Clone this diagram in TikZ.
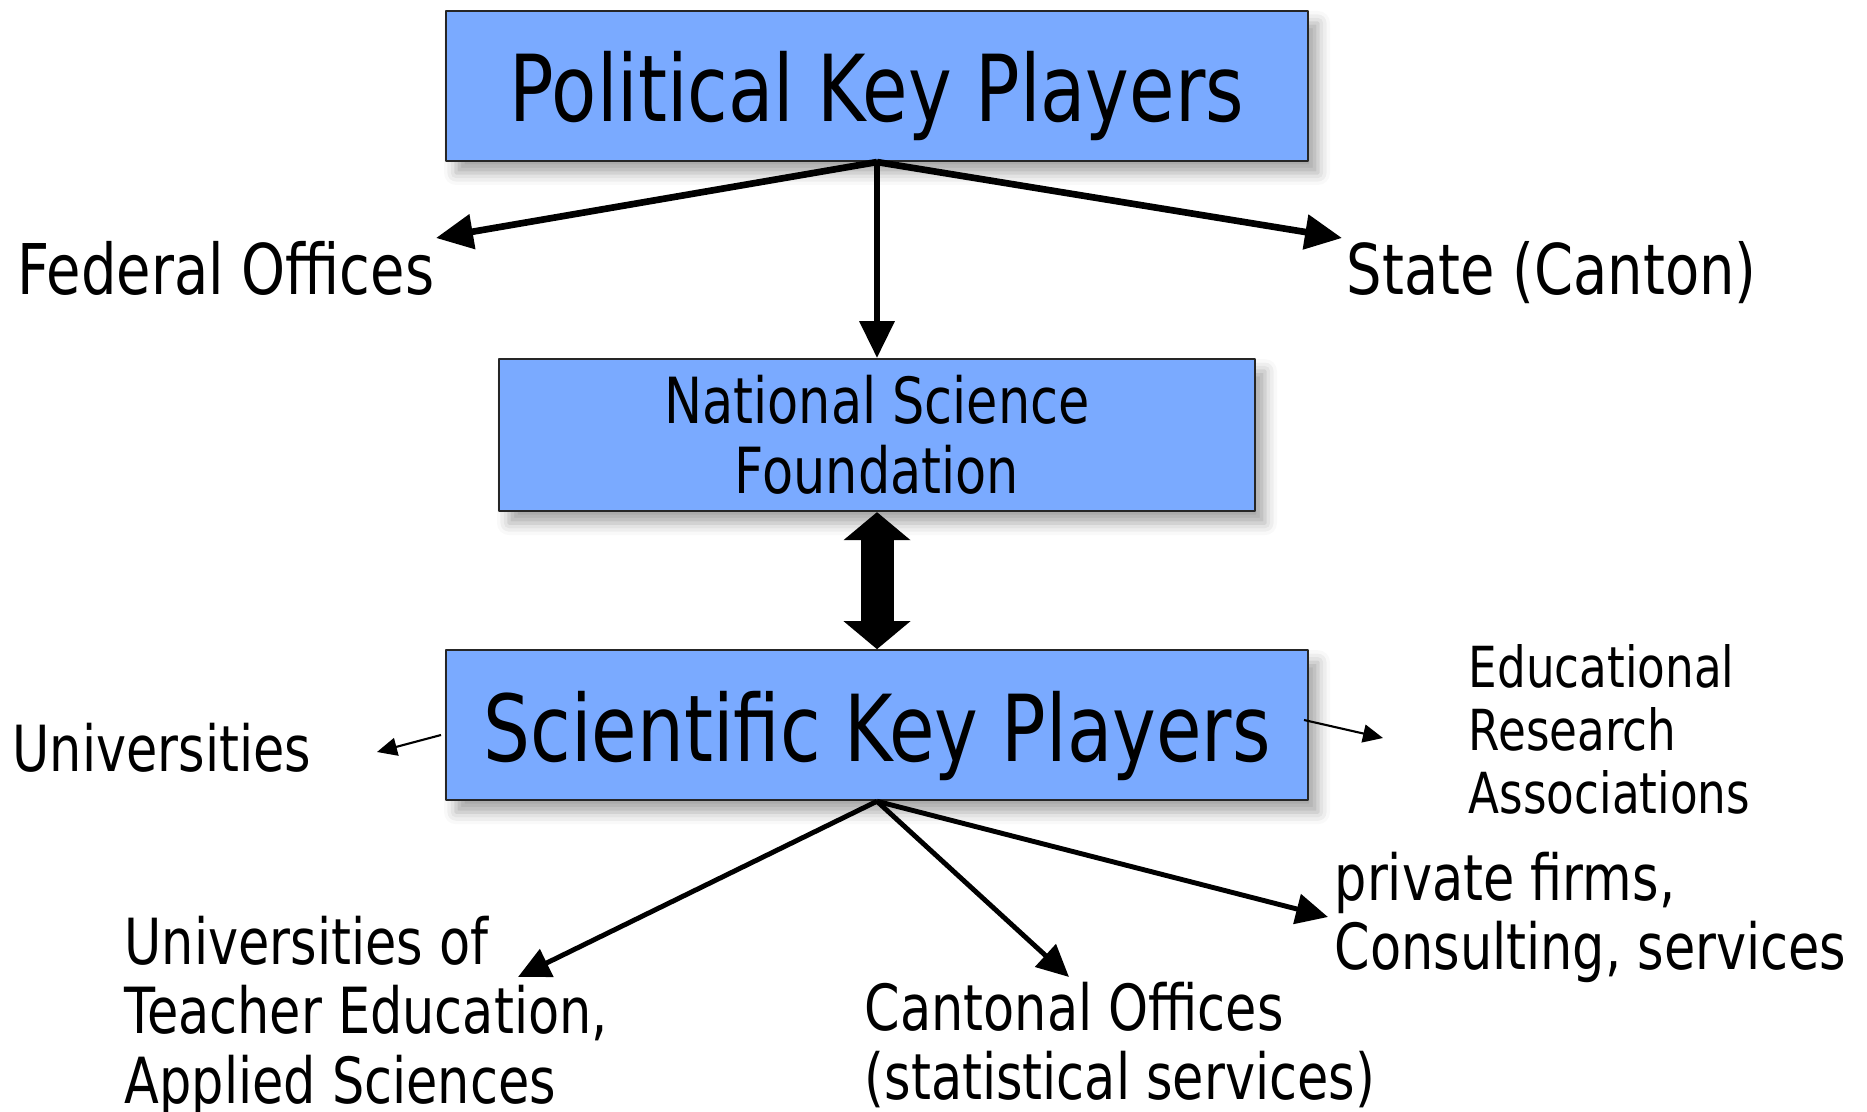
\documentclass[tikz,border=0pt]{standalone}
\usepackage{fontspec}
\setmainfont{DejaVu Sans}[FakeStretch=0.8]
\usetikzlibrary{arrows.meta,positioning,shadows.blur}
\definecolor{boxblue}{RGB}{122,170,255}
\newcommand\fsBig{\fontsize{26.3}{30}\selectfont}
\newcommand\fsPol{\fontsize{19.9}{22}\selectfont}
\newcommand\fsMed{\fontsize{18.1}{19.9}\selectfont}
\newcommand\fsSmall{\fontsize{16.1}{17.9}\selectfont}
\tikzset{every picture/.style={line join=round}}
\tikzset{box/.style={draw=black!85, fill=boxblue, rectangle, line width=0.6pt,
  minimum width=8.62cm, minimum height=1.5cm, align=center,
  blur shadow={shadow xshift=1mm, shadow yshift=-1.2mm, shadow opacity=35, shadow blur radius=1.2mm}}}
\tikzset{bigbox/.style={box, font=\fsBig, text height=0.72cm, text depth=0pt}}
\tikzset{lbl/.style={inner sep=0pt, align=left}}
\tikzset{polarrow/.style={-{Triangle[length=3.7mm, width=3.4mm]}, line width=1.9pt}}
\tikzset{sciarrow/.style={-{Triangle[length=3.2mm, width=3mm]}, line width=1.4pt}}
\tikzset{thinarrow/.style={-{Triangle[length=2mm, width=1.8mm]}, line width=0.6pt}}
\tikzset{dblarrow/.style={{Triangle[length=2.8mm, width=6.7mm, line width=0pt]}-{Triangle[length=2.8mm, width=6.7mm, line width=0pt]},
  line width=3.3mm}}

\begin{document}
\begin{tikzpicture}
  \useasboundingbox (0,0) rectangle (18.67,-11.12);

  % Kaesten
  \node[bigbox] (pkp) at (8.77,-0.86) {Political Key Players};
  \node[box, font=\fsMed, minimum width=7.56cm, minimum height=1.52cm, below=1.96cm of pkp] (nsf) {National Science\\Foundation};
  \node[bigbox, below=1.37cm of nsf] (skp) {Scientific Key Players};

  % Beschriftungen
  \node[lbl, font=\fsPol, anchor=base west] (fed) at (0.17,-2.95) {Federal Offices};
  \node[lbl, font=\fsPol, anchor=base west] (state) at (13.46,-2.95) {State (Canton)};
  \node[lbl, font=\fsMed, anchor=base west] (uni) at (0.12,-7.71) {Universities};
  \node[lbl, font=\fsSmall, anchor=north west] (era) at (14.68,-6.44) {Educational\\Research\\Associations};
  \node[lbl, font=\fsMed, anchor=north west] (ute) at (1.24,-9.15) {Universities of\\Teacher Education,\\Applied Sciences};
  \node[lbl, font=\fsMed, anchor=north west] (cant) at (8.64,-9.81) {Cantonal Offices\\(statistical services)};
  \node[lbl, font=\fsMed, anchor=north west] (priv) at (13.34,-8.51) {private firms,\\Consulting, services};

  % Pfeilenden
  \coordinate (fedtip) at (4.36,-2.38);
  \coordinate (statetip) at (13.42,-2.38);
  \coordinate (unifrom) at (4.41,-7.35);
  \coordinate (unitip) at (3.77,-7.52);
  \coordinate (erafrom) at (13.04,-7.20);
  \coordinate (eratip) at (13.83,-7.38);
  \coordinate (utetip) at (5.18,-9.77);
  \coordinate (canttip) at (10.69,-9.77);
  \coordinate (privtip) at (13.28,-9.17);

  % Pfeile
  \draw[polarrow] (pkp.south) -- (fedtip);
  \draw[polarrow] (pkp.south) -- (statetip);
  \draw[polarrow] (pkp.south) -- (nsf.north);
  \draw[dblarrow] (nsf.south) -- (skp.north);
  \draw[thinarrow] (unifrom) -- (unitip);
  \draw[thinarrow] (erafrom) -- (eratip);
  \draw[sciarrow] (skp.south) -- (utetip);
  \draw[sciarrow] (skp.south) -- (canttip);
  \draw[sciarrow] (skp.south) -- (privtip);
\end{tikzpicture}
\end{document}
